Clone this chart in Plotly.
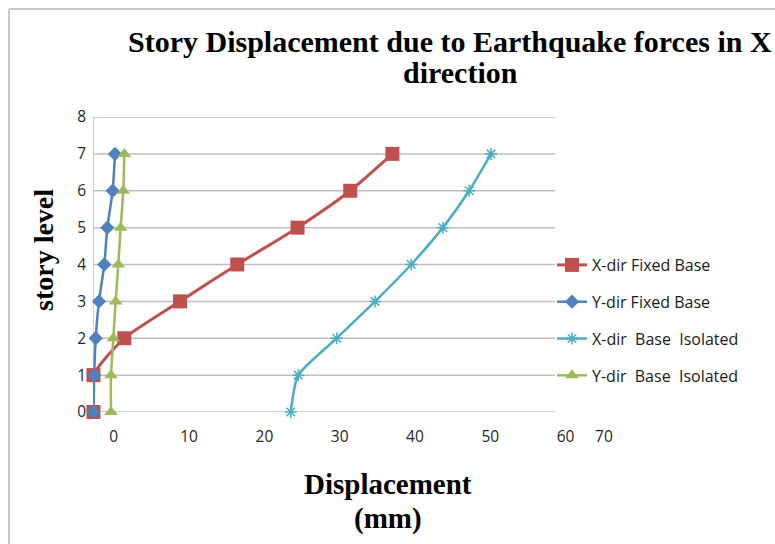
import plotly.graph_objects as go

W, H = 775, 544

story_levels = [0, 1, 2, 3, 4, 5, 6, 7]
x_fixed = [-2.7, -2.7, 1.4, 8.8, 16.4, 24.4, 31.4, 37.0]
y_fixed = [-2.7, -2.6, -2.4, -1.97, -1.26, -0.86, -0.15, 0.16]
x_isolated = [23.5, 24.5, 29.6, 34.7, 39.5, 43.7, 47.2, 50.1]
y_isolated = [-0.37, -0.37, -0.06, 0.25, 0.6, 0.91, 1.26, 1.4]

series_names = ["X-dir Fixed Base", "Y-dir Fixed Base", "X-dir  Base  Isolated", "Y-dir  Base  Isolated"]
x_tick_vals = [0, 10, 20, 30, 40, 50, 60, 65.1]
x_tick_text = ["0", "10", "20", "30", "40", "50", "60", "70"]
y_tick_vals = [0, 1, 2, 3, 4, 5, 6, 7, 8]

RED, BLUE, CYAN, GREEN = "#C0504D", "#4F81BD", "#4BACC6", "#9BBB59"

# plot area in pixels
L, R, T, B = 93, 610, 117, 412
x_min, x_max = -2.76, 65.9
grid_x_end = 58.6


def px(xp):
    return (xp - L) / (R - L)


def py(yp):
    return (B - yp) / (B - T)


fig = go.Figure()
specs = [
    (x_fixed, series_names[0], RED, dict(symbol="square", size=14, color=RED), 3),
    (y_fixed, series_names[1], BLUE, dict(symbol="diamond", size=11, color=BLUE), 2.5),
    (x_isolated, series_names[2], CYAN, dict(symbol="asterisk-open", size=10, color=CYAN, line=dict(color=CYAN, width=1.5)), 2.5),
    (y_isolated, series_names[3], GREEN, dict(symbol="triangle-up", size=12, color=GREEN), 2.5),
]
for i, (xs, name, col, mk, lw) in enumerate(specs):
    fig.add_trace(go.Scatter(
        x=xs, y=story_levels, name=name, mode="lines+markers",
        line=dict(color=col, width=lw, shape="spline", smoothing=0.6),
        marker=mk, cliponaxis=False, legendgroup=str(i),
    ))

# horizontal gridlines limited to the drawn area
for yv in y_tick_vals:
    fig.add_shape(type="line", xref="x", yref="y", x0=x_min, x1=grid_x_end, y0=yv, y1=yv,
                  line=dict(color="#BFBFBF", width=1.5), layer="below")
# vertical axis line
fig.add_shape(type="line", xref="x", yref="y", x0=x_min, x1=x_min, y0=0, y1=8,
              line=dict(color="#BFBFBF", width=1.5), layer="below")

# chart-area border (top and left)
fig.add_shape(type="line", xref="paper", yref="paper",
              x0=px(9), x1=px(W + 20), y0=py(9), y1=py(9),
              line=dict(color="#C8C8C8", width=2))
fig.add_shape(type="line", xref="paper", yref="paper",
              x0=px(9), x1=px(9), y0=py(9), y1=py(H + 20),
              line=dict(color="#C8C8C8", width=2))

serif = "Liberation Serif"
sans = "Open Sans"


def label(text, xp, yp, size, angle=0):
    return dict(text=text, textangle=angle, xref="paper", yref="paper",
                x=px(xp), y=py(yp), xanchor="center", yanchor="middle",
                showarrow=False, font=dict(family=serif, size=size, color="#000000"))


fig.update_layout(
    width=W, height=H,
    margin=dict(l=L, r=W - R, t=T, b=H - B),
    paper_bgcolor="white", plot_bgcolor="white",
    xaxis=dict(range=[x_min, x_max], showgrid=False, zeroline=False, showline=False,
               tickvals=x_tick_vals, ticktext=x_tick_text, ticklabelstandoff=13,
               tickfont=dict(family=sans, size=15.5, color="#262626")),
    yaxis=dict(range=[0, 8], showgrid=False, zeroline=False, showline=False,
               tickvals=y_tick_vals, ticklabelstandoff=6,
               tickfont=dict(family=sans, size=15.5, color="#262626")),
    legend=dict(x=px(552), xanchor="left", y=py(248), yanchor="top",
                font=dict(family=sans, size=16, color="#1a1a1a"),
                tracegroupgap=13, traceorder="grouped", bgcolor="rgba(0,0,0,0)"),
    showlegend=True,
    annotations=[
        label("<b>Story Displacement due to Earthquake forces in X</b>", 450, 41, 30),
        label("<b>direction</b>", 460, 73, 30),
        label("<b>story level</b>", 43, 250, 28, -90),
        label("<b>Displacement</b>", 388, 484, 29),
        label("<b>(mm)</b>", 388, 518, 29),
    ],
)

fig.write_html("out.html", post_script="document.body.style.margin='0px';",
               config={"displayModeBar": False})
